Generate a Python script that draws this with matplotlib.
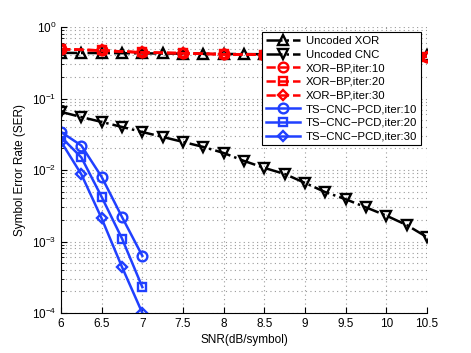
import numpy as np
import matplotlib
matplotlib.use("Agg")
import matplotlib.pyplot as plt
from matplotlib.ticker import LogLocator, NullFormatter, LogFormatterMathtext

plt.rcParams['font.family'] = ['Liberation Sans', 'DejaVu Sans']
plt.rcParams['mathtext.default'] = 'regular'

# SNR grids
snr_q = [6, 6.25, 6.5, 6.75, 7, 7.25, 7.5, 7.75, 8, 8.25, 8.5, 8.75,
         9, 9.25, 9.5, 9.75, 10, 10.25, 10.5]
snr_h = [6, 6.5, 7, 7.5, 8, 8.5, 9, 9.5, 10, 10.5]
snr_ts = [6, 6.25, 6.5, 6.75, 7]

# uncoded curves
ser_xor = [0.435, 0.433, 0.432, 0.43, 0.428, 0.426, 0.424, 0.422, 0.42, 0.418,
           0.416, 0.414, 0.412, 0.41, 0.408, 0.406, 0.404, 0.402, 0.40]
ser_cnc = [0.065, 0.055, 0.047, 0.040, 0.034, 0.029, 0.0247, 0.021, 0.0173,
           0.0134, 0.0107, 0.0088, 0.0066, 0.0049, 0.0039, 0.0030, 0.0023,
           0.0017, 0.00115]

# XOR-BP
ser_bp10 = [0.49, 0.47, 0.44, 0.43, 0.415, 0.41, 0.40, 0.395, 0.39, 0.385]
ser_bp20 = [0.49, 0.47, 0.44, 0.43, 0.415, 0.41, 0.40, 0.395, 0.39, 0.385]
ser_bp30 = [0.49, 0.47, 0.44, 0.43, 0.415, 0.41, 0.40, 0.395, 0.39, 0.385]

# TS-CNC-PCD
ser_ts10 = [0.034, 0.022, 0.0080, 0.0022, 0.00063]
ser_ts20 = [0.029, 0.015, 0.0042, 0.0011, 0.00023]
ser_ts30 = [0.025, 0.0087, 0.0021, 0.00044, 0.0001]

red = '#ff0000'
blue = '#2040ff'
lw = 1.8
ms = 7

fig = plt.figure(figsize=(4.71, 3.53), dpi=100)
ax = fig.add_axes([61 / 471, 40 / 353, 366 / 471, 286 / 353])

ax.semilogy(snr_q, ser_xor, '-.', color='k', marker='^', mfc='none', mew=1.7,
            ms=ms, lw=lw, label='Uncoded XOR')
ax.semilogy(snr_q, ser_cnc, '-.', color='k', marker='v', mfc='none', mew=1.7,
            ms=ms, lw=lw, label='Uncoded CNC')
ax.semilogy(snr_h, ser_bp10, '--', color=red, marker='o', mfc='none', mew=1.7,
            ms=ms, lw=lw, label='XOR\u2212BP,iter:10')
ax.semilogy(snr_h, ser_bp20, '--', color=red, marker='s', mfc='none', mew=1.7,
            ms=ms - 1.5, lw=lw, label='XOR\u2212BP,iter:20')
ax.semilogy(snr_h, ser_bp30, '--', color=red, marker='D', mfc='none', mew=1.7,
            ms=ms - 1.5, lw=lw, label='XOR\u2212BP,iter:30')
ax.semilogy(snr_ts, ser_ts10, '-', color=blue, marker='o', mfc='none', mew=1.7,
            ms=ms, lw=lw, label='TS\u2212CNC\u2212PCD,iter:10')
ax.semilogy(snr_ts, ser_ts20, '-', color=blue, marker='s', mfc='none', mew=1.7,
            ms=ms - 1.5, lw=lw, label='TS\u2212CNC\u2212PCD,iter:20')
ax.semilogy(snr_ts, ser_ts30, '-', color=blue, marker='D', mfc='none', mew=1.7,
            ms=ms - 1.5, lw=lw, label='TS\u2212CNC\u2212PCD,iter:30')

ax.set_xlim(6, 10.5)
ax.set_ylim(1e-4, 1)
ax.set_xticks(np.arange(6, 10.51, 0.5))
ax.set_xticklabels(['6', '6.5', '7', '7.5', '8', '8.5', '9', '9.5', '10', '10.5'])
ax.yaxis.set_major_locator(LogLocator(base=10, numticks=10))
ax.yaxis.set_minor_locator(LogLocator(base=10, subs=np.arange(2, 10), numticks=10))
ax.yaxis.set_major_formatter(LogFormatterMathtext())
ax.yaxis.set_minor_formatter(NullFormatter())

grid_style = dict(color='#9a9a9a', ls=(0, (1, 3)), lw=0.8)
ax.grid(True, which='major', axis='both', **grid_style)
ax.grid(True, which='minor', axis='y', **grid_style)

for side in ['top', 'right']:
    ax.spines[side].set_visible(False)
for side in ['left', 'bottom']:
    ax.spines[side].set_linewidth(0.8)
ax.tick_params(which='both', direction='in', labelsize=8.5, top=False, right=False)
ax.tick_params(which='major', length=4)
ax.tick_params(which='minor', length=2)

ax.set_xlabel('SNR(dB/symbol)', fontsize=8.5, labelpad=3)
ax.set_ylabel('Symbol Error Rate (SER)', fontsize=8.5, labelpad=4)

leg = ax.legend(loc='upper right', bbox_to_anchor=(421 / 471, 1 - 32 / 353),
                bbox_transform=fig.transFigure, fontsize=8.2, frameon=True,
                fancybox=False, framealpha=1, edgecolor='k', handlelength=3.0,
                handletextpad=0.5, borderpad=0.35, labelspacing=0.32,
                borderaxespad=0)
leg.get_frame().set_linewidth(0.8)

fig.savefig('out.png', dpi=100)
